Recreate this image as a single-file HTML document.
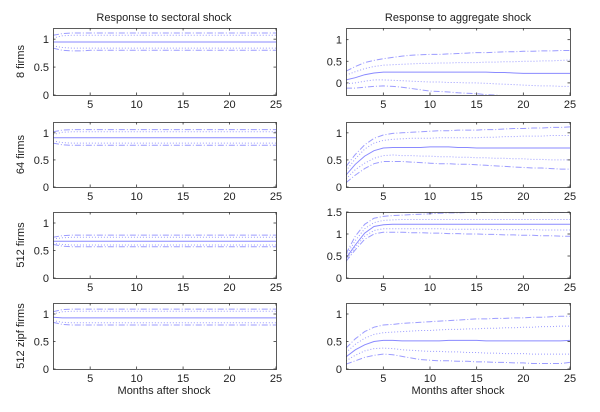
<!DOCTYPE html>
<html><head><meta charset="utf-8">
<style>
html,body{margin:0;padding:0;background:#fff;}
svg{display:block;font-family:"Liberation Sans",Arial,sans-serif;}
</style></head>
<body>
<svg id="fig" width="600" height="412" viewBox="0 0 600 412" xmlns="http://www.w3.org/2000/svg">
<text x="164" y="21" font-size="11" text-anchor="middle" fill="#222">Response to sectoral shock</text>
<text x="458" y="21" font-size="11" text-anchor="middle" fill="#222">Response to aggregate shock</text>
<text x="164" y="394" font-size="11" text-anchor="middle" fill="#222">Months after shock</text>
<text x="458" y="394" font-size="11" text-anchor="middle" fill="#222">Months after shock</text>
</svg>
<script>
const months = [1,2,3,4,5,6,7,8,9,10,11,12,13,14,15,16,17,18,19,20,21,22,23,24,25];
const xTicks = [5,10,15,20,25];
const rowLabels = ["8 firms","64 firms","512 firms","512 zipf firms"];

// Sectoral shock (left column)
const s8Mean = [0.95,0.95,0.95,0.95,0.95,0.95,0.95,0.95,0.95,0.95,0.95,0.95,0.95,0.95,0.95,0.95,0.95,0.95,0.95,0.95,0.95,0.95,0.95,0.95,0.95];
const s8Up1  = [1.02,1.06,1.07,1.07,1.07,1.07,1.07,1.07,1.07,1.07,1.07,1.07,1.07,1.07,1.07,1.07,1.07,1.07,1.07,1.07,1.07,1.07,1.07,1.07,1.07];
const s8Lo1  = [0.88,0.85,0.84,0.84,0.84,0.84,0.84,0.84,0.84,0.84,0.84,0.84,0.84,0.84,0.84,0.84,0.84,0.84,0.84,0.84,0.84,0.84,0.84,0.84,0.84];
const s8Up2  = [1.07,1.10,1.11,1.11,1.11,1.11,1.11,1.11,1.11,1.11,1.11,1.11,1.11,1.11,1.11,1.11,1.11,1.11,1.11,1.11,1.11,1.11,1.11,1.11,1.11];
const s8Lo2  = [0.84,0.80,0.79,0.79,0.80,0.80,0.80,0.80,0.80,0.80,0.80,0.80,0.80,0.80,0.80,0.80,0.80,0.80,0.80,0.80,0.80,0.80,0.80,0.80,0.80];

const s64Mean = [0.91,0.91,0.91,0.91,0.91,0.91,0.91,0.91,0.91,0.91,0.91,0.91,0.91,0.91,0.91,0.91,0.91,0.91,0.91,0.91,0.91,0.91,0.91,0.91,0.91];
const s64Up1  = [0.97,1.01,1.02,1.02,1.02,1.02,1.02,1.02,1.02,1.02,1.02,1.02,1.02,1.02,1.02,1.02,1.02,1.02,1.02,1.02,1.02,1.02,1.02,1.02,1.02];
const s64Lo1  = [0.85,0.82,0.81,0.81,0.81,0.81,0.81,0.81,0.81,0.81,0.81,0.81,0.81,0.81,0.81,0.81,0.81,0.81,0.81,0.81,0.81,0.81,0.81,0.81,0.81];
const s64Up2  = [1.02,1.05,1.06,1.06,1.06,1.06,1.06,1.06,1.06,1.06,1.06,1.06,1.06,1.06,1.06,1.06,1.06,1.06,1.06,1.06,1.06,1.06,1.06,1.06,1.06];
const s64Lo2  = [0.81,0.78,0.77,0.77,0.77,0.77,0.77,0.77,0.77,0.77,0.77,0.77,0.77,0.77,0.77,0.77,0.77,0.77,0.77,0.77,0.77,0.77,0.77,0.77,0.77];

const s512Mean = [0.67,0.67,0.67,0.67,0.67,0.67,0.67,0.67,0.67,0.67,0.67,0.67,0.67,0.67,0.67,0.67,0.67,0.67,0.67,0.67,0.67,0.67,0.67,0.67,0.67];
const s512Up1  = [0.71,0.73,0.74,0.74,0.74,0.74,0.74,0.74,0.74,0.74,0.74,0.74,0.74,0.74,0.74,0.74,0.74,0.74,0.74,0.74,0.74,0.74,0.74,0.74,0.74];
const s512Lo1  = [0.63,0.61,0.60,0.60,0.60,0.60,0.60,0.60,0.60,0.60,0.60,0.60,0.60,0.60,0.60,0.60,0.60,0.60,0.60,0.60,0.60,0.60,0.60,0.60,0.60];
const s512Up2  = [0.74,0.77,0.78,0.78,0.78,0.78,0.78,0.78,0.78,0.78,0.78,0.78,0.78,0.78,0.78,0.78,0.78,0.78,0.78,0.78,0.78,0.78,0.78,0.78,0.78];
const s512Lo2  = [0.61,0.58,0.57,0.57,0.57,0.57,0.57,0.57,0.57,0.57,0.57,0.57,0.57,0.57,0.57,0.57,0.57,0.57,0.57,0.57,0.57,0.57,0.57,0.57,0.57];

const sZMean = [0.94,0.93,0.93,0.93,0.93,0.93,0.93,0.93,0.93,0.93,0.93,0.93,0.93,0.93,0.93,0.93,0.93,0.93,0.93,0.93,0.93,0.93,0.93,0.93,0.93];
const sZUp1  = [1.00,1.04,1.05,1.05,1.05,1.05,1.05,1.05,1.05,1.05,1.05,1.05,1.05,1.05,1.05,1.05,1.05,1.05,1.05,1.05,1.05,1.05,1.05,1.05,1.05];
const sZLo1  = [0.88,0.85,0.84,0.84,0.84,0.84,0.84,0.84,0.84,0.84,0.84,0.84,0.84,0.84,0.84,0.84,0.84,0.84,0.84,0.84,0.84,0.84,0.84,0.84,0.84];
const sZUp2  = [1.04,1.08,1.09,1.09,1.09,1.09,1.09,1.09,1.09,1.09,1.09,1.09,1.09,1.09,1.09,1.09,1.09,1.09,1.09,1.09,1.09,1.09,1.09,1.09,1.09];
const sZLo2  = [0.85,0.81,0.80,0.80,0.80,0.80,0.80,0.80,0.80,0.80,0.80,0.80,0.80,0.80,0.80,0.80,0.80,0.80,0.80,0.80,0.80,0.80,0.80,0.80,0.80];

// Aggregate shock (right column)
const a8Mean = [0.07,0.12,0.19,0.23,0.25,0.25,0.25,0.25,0.25,0.25,0.25,0.25,0.25,0.25,0.25,0.25,0.24,0.24,0.23,0.22,0.22,0.22,0.22,0.22,0.22];
const a8Up1  = [0.18,0.26,0.33,0.38,0.41,0.42,0.43,0.44,0.45,0.45,0.46,0.46,0.47,0.47,0.47,0.48,0.48,0.49,0.49,0.50,0.50,0.51,0.51,0.52,0.53];
const a8Lo1  = [-0.02,0.00,0.04,0.07,0.07,0.06,0.05,0.04,0.03,0.02,0.02,0.01,0.01,0.00,0.00,-0.01,-0.02,-0.03,-0.04,-0.05,-0.06,-0.07,-0.07,-0.08,-0.08];
const a8Up2  = [0.27,0.38,0.47,0.52,0.56,0.59,0.62,0.64,0.65,0.66,0.66,0.67,0.68,0.69,0.70,0.70,0.71,0.72,0.72,0.73,0.73,0.74,0.74,0.75,0.75];
const a8Lo2  = [-0.12,-0.12,-0.10,-0.08,-0.07,-0.08,-0.10,-0.13,-0.16,-0.19,-0.20,-0.21,-0.23,-0.24,-0.25,-0.27,-0.28,-0.30,-0.31,-0.32,-0.33,-0.34,-0.35,-0.36,-0.37];

const a64Mean = [0.22,0.42,0.57,0.67,0.72,0.73,0.73,0.73,0.73,0.74,0.74,0.74,0.73,0.73,0.72,0.72,0.72,0.72,0.72,0.72,0.72,0.72,0.72,0.72,0.72];
const a64Up1  = [0.30,0.52,0.70,0.81,0.86,0.88,0.89,0.90,0.90,0.90,0.91,0.91,0.91,0.91,0.91,0.92,0.92,0.93,0.93,0.94,0.94,0.94,0.95,0.95,0.95];
const a64Lo1  = [0.15,0.32,0.44,0.53,0.58,0.59,0.58,0.58,0.57,0.57,0.56,0.56,0.55,0.55,0.54,0.54,0.53,0.53,0.52,0.52,0.51,0.51,0.50,0.50,0.50];
const a64Up2  = [0.38,0.60,0.78,0.90,0.96,0.99,1.00,1.01,1.02,1.03,1.04,1.04,1.05,1.05,1.05,1.06,1.06,1.07,1.08,1.08,1.09,1.09,1.10,1.10,1.11];
const a64Lo2  = [0.08,0.22,0.34,0.43,0.47,0.47,0.47,0.46,0.45,0.44,0.43,0.43,0.42,0.42,0.41,0.40,0.39,0.38,0.37,0.36,0.35,0.35,0.34,0.33,0.33];

const a512Mean = [0.45,0.75,1.02,1.17,1.21,1.22,1.22,1.22,1.22,1.22,1.22,1.22,1.22,1.22,1.22,1.22,1.22,1.22,1.22,1.22,1.22,1.22,1.22,1.22,1.22];
const a512Up1  = [0.50,0.85,1.12,1.26,1.31,1.32,1.33,1.33,1.33,1.33,1.33,1.33,1.33,1.33,1.33,1.33,1.33,1.33,1.33,1.33,1.33,1.33,1.33,1.33,1.33];
const a512Lo1  = [0.40,0.70,0.95,1.08,1.12,1.12,1.12,1.12,1.12,1.12,1.12,1.11,1.11,1.11,1.11,1.11,1.10,1.10,1.10,1.10,1.10,1.09,1.09,1.09,1.09];
const a512Up2  = [0.55,0.95,1.22,1.36,1.40,1.42,1.43,1.44,1.45,1.46,1.47,1.48,1.48,1.49,1.49,1.50,1.50,1.50,1.50,1.50,1.50,1.50,1.50,1.50,1.50];
const a512Lo2  = [0.38,0.64,0.88,1.00,1.04,1.04,1.04,1.03,1.03,1.02,1.02,1.01,1.01,1.00,1.00,0.99,0.99,0.98,0.98,0.97,0.97,0.96,0.96,0.95,0.95];

const aZMean = [0.22,0.35,0.44,0.50,0.52,0.52,0.51,0.51,0.51,0.51,0.51,0.52,0.52,0.52,0.52,0.51,0.51,0.51,0.51,0.51,0.51,0.51,0.51,0.51,0.52];
const aZUp1  = [0.30,0.45,0.56,0.63,0.66,0.67,0.68,0.69,0.70,0.70,0.71,0.72,0.72,0.73,0.73,0.74,0.74,0.75,0.75,0.76,0.76,0.77,0.77,0.78,0.78];
const aZLo1  = [0.15,0.25,0.33,0.37,0.38,0.37,0.35,0.34,0.33,0.32,0.32,0.31,0.31,0.30,0.30,0.29,0.29,0.28,0.28,0.28,0.27,0.27,0.27,0.27,0.27];
const aZUp2  = [0.38,0.55,0.68,0.76,0.80,0.81,0.83,0.84,0.85,0.86,0.87,0.88,0.89,0.90,0.91,0.91,0.92,0.92,0.93,0.93,0.94,0.94,0.95,0.96,0.96];
const aZLo2  = [0.09,0.15,0.21,0.25,0.27,0.26,0.23,0.20,0.17,0.16,0.15,0.15,0.14,0.14,0.13,0.13,0.12,0.12,0.11,0.11,0.10,0.10,0.10,0.10,0.12];

const panels = [
  {name:"sectoral-8-firms", x0:53,x1:276,y0:28,y1:95, ymin:0,ymax:1.2, yt:[0,0.5,1], label:0, s:[s8Mean,s8Up1,s8Lo1,s8Up2,s8Lo2]},
  {name:"sectoral-64-firms", x0:53,x1:276,y0:122,y1:187, ymin:0,ymax:1.2, yt:[0,0.5,1], label:1, s:[s64Mean,s64Up1,s64Lo1,s64Up2,s64Lo2]},
  {name:"sectoral-512-firms", x0:53,x1:276,y0:212,y1:278, ymin:0,ymax:1.2, yt:[0,0.5,1], label:2, s:[s512Mean,s512Up1,s512Lo1,s512Up2,s512Lo2]},
  {name:"sectoral-512-zipf-firms", x0:53,x1:276,y0:303,y1:369, ymin:0,ymax:1.2, yt:[0,0.5,1], label:3, s:[sZMean,sZUp1,sZLo1,sZUp2,sZLo2]},
  {name:"aggregate-8-firms", x0:346,x1:570,y0:28,y1:95, ymin:-0.28,ymax:1.27, yt:[0,0.5,1], label:-1, s:[a8Mean,a8Up1,a8Lo1,a8Up2,a8Lo2]},
  {name:"aggregate-64-firms", x0:346,x1:570,y0:122,y1:187, ymin:0,ymax:1.2, yt:[0,0.5,1], label:-1, s:[a64Mean,a64Up1,a64Lo1,a64Up2,a64Lo2]},
  {name:"aggregate-512-firms", x0:346,x1:570,y0:212,y1:278, ymin:0,ymax:1.5, yt:[0,0.5,1,1.5], label:-1, s:[a512Mean,a512Up1,a512Lo1,a512Up2,a512Lo2]},
  {name:"aggregate-512-zipf-firms", x0:346,x1:570,y0:303,y1:369, ymin:0,ymax:1.2, yt:[0,0.5,1], label:-1, s:[aZMean,aZUp1,aZLo1,aZUp2,aZLo2]}
];
const seriesNames = ["mean-line","upper-dotted-band","lower-dotted-band","upper-dashdot-band","lower-dashdot-band"];
const seriesDash = ["", "1,2", "1,2", "6,2,1,2", "6,2,1,2"];

const NS = "http://www.w3.org/2000/svg";
const svg = document.getElementById("fig");
function mk(tag, attrs, parent){
  const e = document.createElementNS(NS, tag);
  for (const k in attrs) e.setAttribute(k, attrs[k]);
  (parent||svg).appendChild(e);
  return e;
}
function fmt(v){ return String(v); }

panels.forEach(p => {
  const g = mk("g", {});
  
  
  const sx = v => p.x0 + (v - 1) / 24 * (p.x1 - p.x0);
  const sy = v => p.y1 - (v - p.ymin) / (p.ymax - p.ymin) * (p.y1 - p.y0);
  const defs = mk("clipPath", {id: "clip-" + p.name}, g);
  mk("rect", {x:p.x0, y:p.y0, width:p.x1-p.x0, height:p.y1-p.y0}, defs);
  // series
  p.s.forEach((arr, i) => {
    const d = arr.map((v, j) => (j ? "L" : "M") + sx(months[j]).toFixed(1) + "," + sy(v).toFixed(1)).join(" ");
    const path = mk("path", {d:d, fill:"none", stroke: i===0 ? "#8a8aff" : "#9c9cff", "stroke-width": i===0?1:1, "clip-path":"url(#clip-"+p.name+")"}, g);
    if (seriesDash[i]) path.setAttribute("stroke-dasharray", seriesDash[i]);
    
    
  });
  // frame
  const fr = mk("rect", {x:p.x0+0.5, y:p.y0+0.5, width:p.x1-p.x0, height:p.y1-p.y0, fill:"none", stroke:"#333", "stroke-width":0.8}, g);
  
  
  // x ticks
  xTicks.forEach(t => {
    const x = sx(t);
    mk("line", {x1:x, y1:p.y1, x2:x, y2:p.y1-2.5, stroke:"#333", "stroke-width":0.8}, g);
    mk("line", {x1:x, y1:p.y0, x2:x, y2:p.y0+2.5, stroke:"#333", "stroke-width":0.8}, g);
    const tx = mk("text", {x:x, y:p.y1+13, "font-size":11, "text-anchor":"middle", fill:"#222"}, g);
    tx.textContent = fmt(t);
    
    
  });
  // y ticks
  p.yt.forEach(t => {
    const y = sy(t);
    mk("line", {x1:p.x0, y1:y, x2:p.x0+2.5, y2:y, stroke:"#333", "stroke-width":0.8}, g);
    mk("line", {x1:p.x1, y1:y, x2:p.x1-2.5, y2:y, stroke:"#333", "stroke-width":0.8}, g);
    const ty = mk("text", {x:p.x0-4, y:y+4, "font-size":11, "text-anchor":"end", fill:"#222"}, g);
    ty.textContent = fmt(t);
    
    
  });
  if (p.label >= 0) {
    const cy = (p.y0 + p.y1) / 2;
    const lb = mk("text", {x:0, y:0, "font-size":11, "text-anchor":"middle", fill:"#222", transform:"translate(24," + cy + ") rotate(-90)"}, g);
    lb.textContent = rowLabels[p.label];
    
    
  }
});
</script>
</body></html>
